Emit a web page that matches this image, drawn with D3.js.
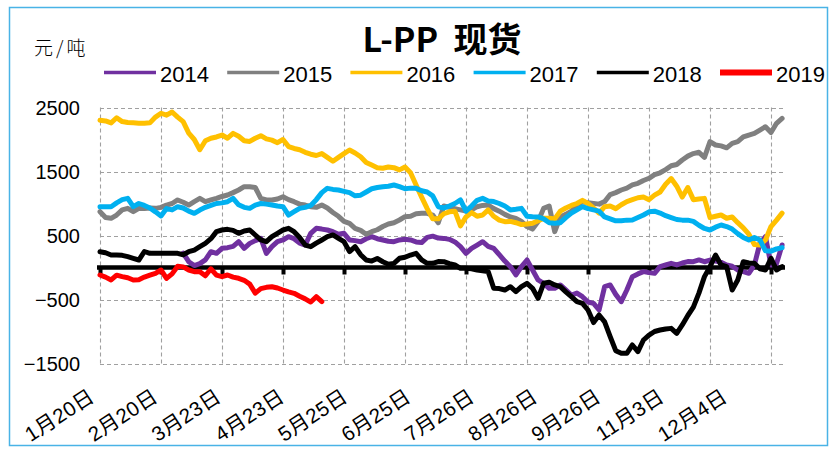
<!DOCTYPE html>
<html>
<head>
<meta charset="utf-8">
<script src="https://cdn.jsdelivr.net/npm/d3@7"></script>
<style>
  body { margin: 0; background: #fff; }
  svg { display: block; }
</style>
</head>
<body>
<svg id="chart" width="833" height="449"></svg>
<script>
// Category tick labels (one every 11 sampled trading days)
const tickLabels = ["1月20日","2月20日","3月23日","4月23日","5月25日","6月25日","7月26日","8月26日","9月26日","11月3日","12月4日"];
const years = ["2014","2015","2016","2017","2018","2019"];
const colors = ["#7030a0","#808080","#ffc000","#00b0f0","#000000","#ff0000"];
const yTicks = [-1500, -500, 500, 1500, 2500];

// L-PP spot spread, 元/吨, sampled every other trading day
const s2014 = [null,null,null,null,null,null,null,null,null,null,null,null,null,null,null,
  226,91,30,60,120,
  247,221,300,310,330,403,300,377,420,455,
  221,325,403,430,481,450,380,351,534,612,
  600,586,560,520,534,430,420,403,450,481,
  450,430,410,403,430,440,430,400,390,470,
  490,460,455,440,400,325,221,299,350,403,
  330,299,200,100,13,-117,14,117,-40,-195,
  -247,-325,-325,-273,-351,-430,-400,-456,-540,-560,
  -664,-299,-273,-420,-534,-351,-143,-100,-65,-80,
  -91,14,39,65,40,70,92,91,118,90,
  117,100,80,39,20,-39,-65,-91,39,377,
  481,40,60,352];
const s2015 = [872,780,768,820,900,924,872,924,920,930,
  924,940,976,1000,1055,1020,976,1030,1080,1028,
  1055,1080,1110,1133,1170,1211,1263,1263,1250,1080,
  1055,1055,1070,1106,1060,1028,990,976,950,940,
  976,930,860,800,720,690,612,580,520,560,
  590,640,680,700,742,794,800,840,846,846,
  820,700,960,940,920,900,880,900,950,970,
  976,920,880,830,790,768,720,640,600,720,
  924,960,560,790,830,880,976,1028,1010,1002,
  990,1030,1140,1170,1211,1240,1290,1315,1360,1394,
  1450,1480,1530,1590,1610,1680,1740,1780,1800,1720,
  1966,1914,1900,1870,1940,1966,2040,2070,2096,2148,
  2200,2110,2253,2330];
const s2016 = [2300,2290,2260,2340,2280,2265,2260,2255,2255,2260,
  2350,2410,2380,2430,2350,2280,2100,2000,1840,1980,
  2020,2040,2070,2020,2096,2050,1980,1970,2020,2060,
  2010,1990,1950,2000,1890,1860,1840,1800,1770,1750,
  1780,1720,1660,1720,1780,1836,1790,1730,1640,1600,
  1560,1550,1570,1560,1525,1570,1480,1290,1100,920,
  760,760,840,870,880,650,790,860,800,820,
  900,800,740,716,720,700,670,680,690,730,
  768,770,760,880,930,970,1000,1050,1000,930,
  850,950,960,920,980,1030,1060,1090,1100,1060,
  1130,1180,1300,1390,1270,1100,1250,1060,1070,1080,
  780,800,820,770,790,700,620,520,360,350,
  430,640,740,850];
const s2017 = [950,950,950,1010,1060,1080,950,1000,970,930,
  870,805,920,900,950,930,880,846,898,940,
  970,1000,1010,1028,1080,980,940,924,976,1000,
  990,976,960,950,820,872,924,940,970,1060,
  1170,1237,1220,1211,1190,1170,1120,1130,1180,1230,
  1250,1263,1270,1289,1263,1230,1240,1237,1200,1180,
  1120,950,930,960,1000,1055,880,960,1050,1080,
  1040,1030,1000,960,900,910,924,800,794,790,
  760,700,690,700,780,850,900,950,920,900,
  880,790,760,730,730,740,742,780,820,870,
  880,850,810,780,750,740,740,720,660,610,
  586,630,664,640,600,530,470,430,470,430,
  260,255,290,310];
const s2018 = [247,230,195,195,190,169,143,117,250,221,
  221,221,221,221,221,200,247,273,325,377,
  450,560,586,596,580,534,570,586,508,430,
  403,481,534,586,612,560,470,351,325,380,
  430,481,508,455,403,248,326,200,118,100,
  140,90,50,65,144,160,195,221,120,65,
  65,92,91,60,40,-13,-13,-20,-39,-50,
  -65,-325,-330,-352,-300,-377,-300,-247,-325,-481,
  -247,-230,-273,-299,-380,-456,-534,-560,-664,-860,
  -742,-850,-1081,-1300,-1341,-1341,-1211,-1315,-1133,-1055,
  -1000,-977,-960,-951,-1029,-898,-750,-620,-400,-143,
  13,195,39,13,-352,-195,91,70,65,-20,
  -39,143,-39,13];
const s2019 = [-117,-150,-195,-120,-143,-160,-195,-190,-150,-120,
  -91,-39,-169,-100,20,10,-39,-65,-65,-130,
  -20,-120,-143,-117,-150,-169,-200,-260,-400,-330,
  -310,-300,-320,-352,-380,-403,-450,-490,-540,-456,
  -534];

const series = [s2014, s2015, s2016, s2017, s2018, s2019];

const svg = d3.select("#chart");

// Outer frame
svg.append("rect")
  .attr("x", 9.5).attr("y", 7.5).attr("width", 818).attr("height", 438)
  .attr("fill", "#fff").attr("stroke", "#49b3e6").attr("stroke-width", 1.5);

// Scales: x runs over sample index, gridlines every 11 samples
const x = d3.scaleLinear().domain([0, 121]).range([100, 771]);
const y = d3.scaleLinear().domain([-1500, 2500]).range([363.5, 107.5]);
const plotRight = 785;
const gridIdx = d3.range(0, 122, 11);

// Dashed gridlines
const grid = svg.append("g").attr("stroke", "#a0a0a0").attr("stroke-width", 1.1)
  .attr("stroke-dasharray", "4,3").attr("fill", "none");
grid.selectAll("line.h").data(yTicks).join("line")
  .attr("x1", x(0)).attr("x2", plotRight)
  .attr("y1", d => Math.round(y(d)) + 0.5).attr("y2", d => Math.round(y(d)) + 0.5);
grid.selectAll("line.v").data(gridIdx).join("line")
  .attr("x1", d => Math.round(x(d)) + 0.5).attr("x2", d => Math.round(x(d)) + 0.5)
  .attr("y1", y(2500)).attr("y2", y(-1500));

// Y axis labels
const fmt = d3.format("d");
svg.append("g").selectAll("text").data(yTicks).join("text")
  .attr("x", 80).attr("y", d => y(d))
  .attr("dy", "0.36em")
  .attr("text-anchor", "end")
  .attr("font-family", "Liberation Sans, Arial, sans-serif")
  .attr("font-size", 20)
  .attr("fill", "#000")
  .text(d => fmt(d));

// Zero axis with tick marks
svg.append("line")
  .attr("x1", x(0) - 3).attr("x2", plotRight)
  .attr("y1", y(0)).attr("y2", y(0))
  .attr("stroke", "#000").attr("stroke-width", 4.5);
const xAxis = d3.axisBottom(x).tickValues(gridIdx).tickSize(7).tickFormat("");
const axisG = svg.append("g").attr("transform", `translate(0,${y(0)})`).call(xAxis);
axisG.select(".domain").remove();
axisG.selectAll(".tick line").attr("stroke", "#000").attr("stroke-width", 4);

// Category labels, rotated
const xl = d3.scalePoint().domain(tickLabels).range([96, 729]);
svg.append("g").selectAll("text").data(tickLabels).join("text")
  .attr("transform", d => `translate(${xl(d)},400) rotate(-33)`)
  .attr("text-anchor", "end")
  .attr("font-family", "Liberation Sans, Noto Sans CJK SC, sans-serif")
  .attr("font-size", 20.5)
  .attr("letter-spacing", 0.5)
  .attr("fill", "#000")
  .text(d => d);

// Series lines
const line = d3.line()
  .defined(d => d != null)
  .x((d, i) => x(i))
  .y(d => y(d));
svg.append("g").selectAll("path").data(series).join("path")
  .attr("d", d => line(d))
  .attr("fill", "none")
  .attr("stroke", (d, i) => colors[i])
  .attr("stroke-width", 5)
  .attr("stroke-linejoin", "round")
  .attr("stroke-linecap", "round");

// Title and unit
svg.append("text")
  .attr("x", 442).attr("y", 52)
  .attr("text-anchor", "middle")
  .attr("font-family", "Noto Sans CJK SC, sans-serif")
  .attr("font-weight", "bold")
  .attr("font-size", 34)
  .attr("xml:space", "preserve")
  .style("white-space", "pre")
  .text("L-PP  现货");
svg.append("text")
  .attr("x", 34).attr("y", 55)
  .attr("font-family", "Noto Sans CJK SC, sans-serif")
  .attr("font-size", 19)
  .attr("font-weight", 300)
  .attr("letter-spacing", 3)
  .text("元/吨");

// Legend
const legend = svg.append("g").selectAll("g").data(years).join("g")
  .attr("transform", (d, i) => `translate(${104 + i * 123.2},0)`);
legend.append("line")
  .attr("x1", 0).attr("x2", 52).attr("y1", 72.5).attr("y2", 72.5)
  .attr("stroke", (d, i) => colors[i])
  .attr("stroke-width", (d, i) => i === 5 ? 6 : 3.5);
legend.append("text")
  .attr("x", 56).attr("y", 82)
  .attr("font-family", "Liberation Sans, Arial, sans-serif")
  .attr("font-size", 22)
  .text(d => d);
</script>
</body>
</html>
